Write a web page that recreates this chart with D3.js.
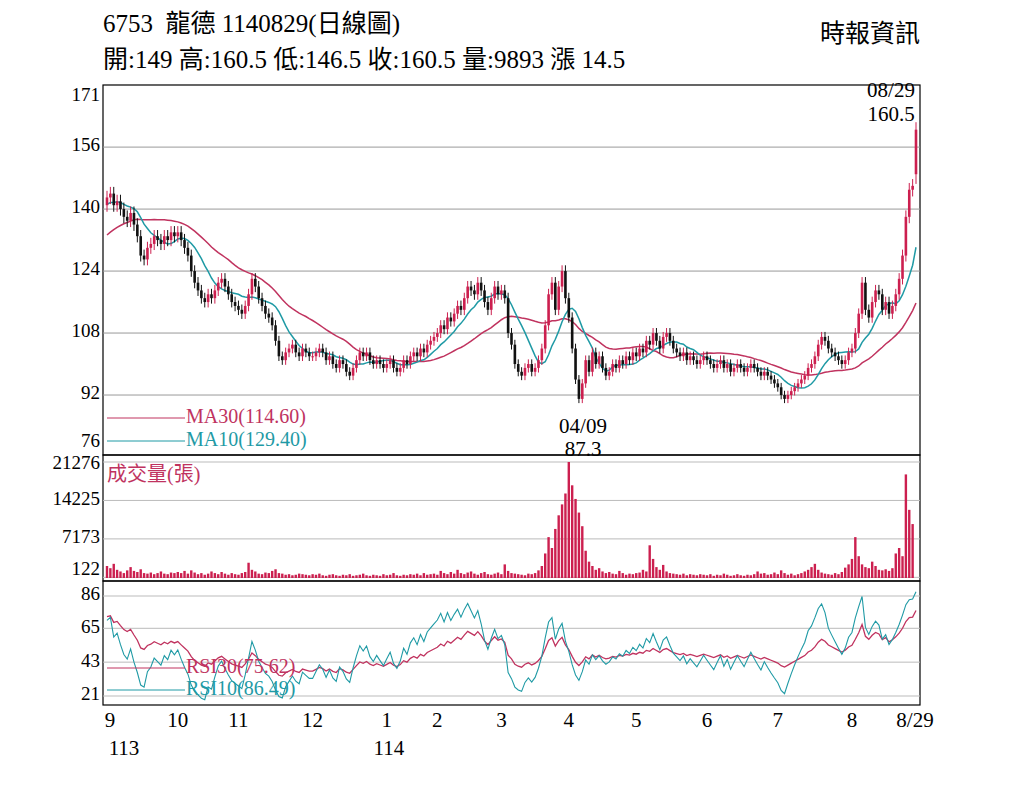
<!DOCTYPE html><html><head><meta charset="utf-8"><script src="https://cdn.jsdelivr.net/npm/d3@7"></script>
<style>body{margin:0;background:#fff}svg{font-family:"Liberation Serif","Noto Sans CJK TC",serif}</style></head><body><svg id="c" width="1024" height="788"></svg><script>
const monthLabels=["9","10","11","12","1","2","3","4","5","6","7","8"];
const monthCounts=[21,18,22,22,15,19,20,20,21,21,22,20];
const prevCloses=[120,122,121,124,126,125,127,128,126,129,130,128,131,130,132,133,131,134,135,137,138,139,141,140,142,143,141,142,140,141];
const closes=[
143,144,141,142,140,138,137,139,136,133,128,127,130,131,133,132,131,133,132,134,133,
134,132,130,128,124,121,119,117,116,118,117,119,121,122,120,118,116,115,
114,113,115,118,122,120,117,115,113,112,110,106,102,101,103,104,105,103,102,104,103,102,
102,103,104,103,101,102,100,99,101,100,98,97,99,101,103,102,103,101,100,101,100,99,
100,101,99,98,99,101,100,102,103,102,104,103,105,106,107,
108,110,109,112,111,113,115,114,117,120,119,118,121,119,116,114,117,120,118,
119,117,108,105,100,98,97,99,100,98,99,101,104,110,118,121,114,120,124,117,
112,104,96,91,95,101,98,103,100,102,99,97,98,100,99,101,100,102,101,103,
102,104,103,106,105,108,106,104,107,108,106,104,103,102,103,101,102,101,100,101,102,
101,100,99,100,101,99,100,98,99,100,99,98,99,100,99,98,97,98,97,96,95,
94,92,91,92,93,94,95,96,97,99,100,102,105,107,106,104,103,102,101,100,101,103,
104,108,113,121,114,112,116,119,118,114,116,113,115,118,122,128,138,145,146,160.5];
const volumes=[
2200,1800,2600,1500,1200,900,1400,2000,1300,1100,1600,900,800,1000,700,900,1200,800,700,1000,900,
1100,900,1300,800,1400,1000,700,900,600,800,1200,900,700,1100,800,600,900,
700,600,900,1100,2800,1500,1200,800,700,1000,900,1300,1600,900,800,600,700,500,600,800,700,600,
500,700,600,800,500,400,600,700,500,400,600,500,700,400,500,600,800,500,400,600,500,400,
700,500,600,900,500,400,600,500,700,600,800,500,900,600,700,
800,600,1300,900,700,1100,800,1500,900,700,1000,1200,800,600,900,1100,700,600,800,
1000,700,2500,1300,900,800,700,600,500,800,700,900,1400,2200,4500,7500,5500,9000,11500,13500,
15500,21276,17000,14500,12000,9500,5000,3000,2200,1500,1800,1200,900,1100,800,700,1300,900,600,800,
700,900,1000,1500,1200,6000,3500,2000,1500,2400,1200,900,800,700,600,800,500,700,600,500,700,
600,500,700,400,600,500,800,600,400,500,700,500,400,600,500,700,1200,800,900,600,700,
1000,700,1400,900,600,800,500,700,900,1200,1500,2000,2600,1500,1000,800,700,600,900,700,1100,1900,
2500,3500,7500,4000,2500,2000,1800,3000,2200,1500,1400,1600,1300,1800,4500,5500,4000,19000,12500,9893];
const yTicks=[171,156,140,124,108,92,76];
const vTicks=[21276,14225,7173,122];
const rTicks=[86,65,43,21];

const svg=d3.select("#c");
const N=closes.length,P=prevCloses.length;
const all=prevCloses.concat(closes);
const opens=closes.map((c,i)=>i===N-1?149:all[P+i-1]);
const x=d3.scaleLinear().domain([0,N-1]).range([107,916]);
const y=d3.scaleLinear().domain([76,171]).range([457,89]);
const yv=d3.scaleLinear().domain([0,21276]).range([578,462]);
const yr=d3.scaleLinear().domain([21,86]).range([696,596]);
const L=103,R=920;
const red="#cc1f4f",teal="#1f9aa5",ma30c="#c0335f";
function ma(n){return closes.map((c,i)=>{const j=P+i;return d3.mean(all.slice(Math.max(0,j-n+1),j+1));});}
function rsi(n){const out=[];let ag=0,al=0;for(let j=1;j<all.length;j++){const d=all[j]-all[j-1];const g=Math.max(d,0),l=Math.max(-d,0);
 if(j<=n){ag+=g/n;al+=l/n;}else{ag=(ag*(n-1)+g)/n;al=(al*(n-1)+l)/n;}
 if(j>=P)out[j-P]=100*ag/((ag+al)||1);}return out;}
[[85,455],[455,581],[581,705]].forEach(p=>svg.append("rect").attr("x",L).attr("y",p[0]).attr("width",R-L).attr("height",p[1]-p[0]).attr("fill","none").attr("stroke","#000").attr("stroke-width",1.2));
yTicks.slice(1,6).forEach(t=>svg.append("line").attr("x1",L).attr("x2",R).attr("y1",y(t)).attr("y2",y(t)).attr("stroke","#999"));
vTicks.forEach(t=>svg.append("line").attr("x1",L).attr("x2",R).attr("y1",yv(t)).attr("y2",yv(t)).attr("stroke","#bbb"));
rTicks.forEach(t=>svg.append("line").attr("x1",L).attr("x2",R).attr("y1",yr(t)).attr("y2",yr(t)).attr("stroke","#bbb"));
const tl=(txt,yy)=>svg.append("text").attr("x",100).attr("y",yy).attr("text-anchor","end").attr("dominant-baseline","middle").attr("font-size",19).text(txt);
yTicks.forEach(t=>tl(t,Math.min(Math.max(y(t),97),443)));
vTicks.forEach(t=>tl(t,Math.max(Math.min(yv(t),571),465)));
rTicks.forEach(t=>tl(t,yr(t)));
const line=d3.line().defined(d=>d[1]!=null).x(d=>x(d[0])).y(d=>d[1]);
const m30=ma(30),m10=ma(10);
svg.append("path").attr("d",line(m30.map((v,i)=>[i,y(v)]))).attr("fill","none").attr("stroke",ma30c).attr("stroke-width",1.5);
svg.append("path").attr("d",line(m10.map((v,i)=>[i,y(v)]))).attr("fill","none").attr("stroke",teal).attr("stroke-width",1.5);
const g=svg.append("g");
closes.forEach((c,i)=>{const o=opens[i];const up=c>=o;const hi=Math.max(o,c)*1.012,lo=Math.min(o,c)*0.988;const col=up?red:"#111";
 g.append("line").attr("x1",x(i)).attr("x2",x(i)).attr("y1",y(hi)).attr("y2",y(i===N-1?146.5:lo)).attr("stroke",col);
 const top=y(Math.max(o,c)),bot=y(Math.min(o,c));
 g.append("rect").attr("x",x(i)-1.3).attr("width",2.6).attr("y",top).attr("height",Math.max(bot-top,1)).attr("fill",col);});
volumes.forEach((v,i)=>svg.append("rect").attr("x",x(i)-1.2).attr("width",2.4).attr("y",yv(v)).attr("height",578-yv(v)).attr("fill",red));
const r30=rsi(30),r10=rsi(10);
svg.append("path").attr("d",line(r30.map((v,i)=>[i,yr(v)]))).attr("fill","none").attr("stroke",ma30c).attr("stroke-width",1.3);
svg.append("path").attr("d",line(r10.map((v,i)=>[i,yr(v)]))).attr("fill","none").attr("stroke",teal).attr("stroke-width",1.1);
function leg(yy,col,txt){svg.append("line").attr("x1",107).attr("x2",185).attr("y1",yy).attr("y2",yy).attr("stroke",col);
 svg.append("text").attr("x",186).attr("y",yy).attr("dominant-baseline","middle").attr("font-size",20).attr("fill",col).text(txt);}
leg(418,ma30c,"MA30(114.60)");leg(441,teal,"MA10(129.40)");
leg(668,ma30c,"RSI30(75.62)");leg(690,teal,"RSI10(86.49)");
svg.append("text").attr("x",107).attr("y",476).attr("dominant-baseline","middle").attr("font-size",20).attr("fill",ma30c).text("成交量(張)");
const ann=(xx,yy,t)=>svg.append("text").attr("x",xx).attr("y",yy).attr("text-anchor","middle").attr("dominant-baseline","middle").attr("font-size",21).text(t);
ann(891,92,"08/29");ann(891,116,"160.5");ann(583,428,"04/09");ann(583,451,"87.3");
let acc=0;monthLabels.forEach((m,k)=>{const xx=k===0?110:x(acc);acc+=monthCounts[k];
 svg.append("text").attr("x",xx).attr("y",722).attr("text-anchor","middle").attr("dominant-baseline","middle").attr("font-size",21).text(m);});
svg.append("text").attr("x",915).attr("y",722).attr("text-anchor","middle").attr("dominant-baseline","middle").attr("font-size",21).text("8/29");
svg.append("text").attr("x",124).attr("y",750).attr("text-anchor","middle").attr("dominant-baseline","middle").attr("font-size",21).text("113");
svg.append("text").attr("x",x(monthCounts.slice(0,4).reduce((a,b)=>a+b,0))+2).attr("y",750).attr("text-anchor","middle").attr("dominant-baseline","middle").attr("font-size",21).text("114");
svg.append("text").attr("x",103).attr("y",26).attr("font-size",25).attr("dominant-baseline","middle").attr("xml:space","preserve").text("6753  龍德 1140829(日線圖)");
svg.append("text").attr("x",103).attr("y",62).attr("font-size",25).attr("dominant-baseline","middle").text("開:149 高:160.5 低:146.5 收:160.5 量:9893 漲 14.5");
svg.append("text").attr("x",920).attr("y",36).attr("font-size",25).attr("text-anchor","end").attr("dominant-baseline","middle").text("時報資訊");
</script></body></html>
